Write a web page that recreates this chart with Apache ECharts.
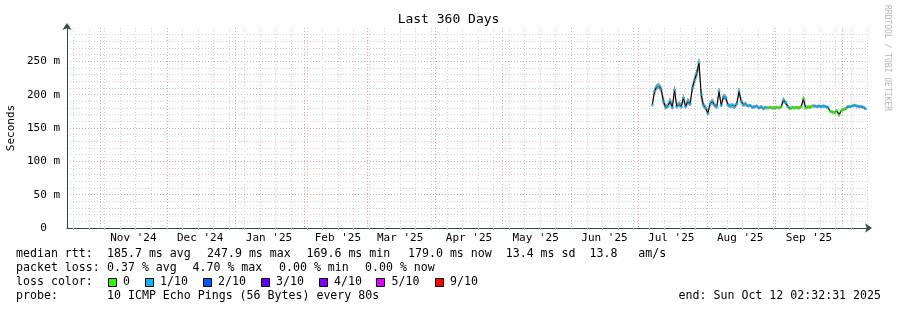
<!DOCTYPE html>
<html><head><meta charset="utf-8">
<script src="https://cdn.jsdelivr.net/npm/echarts@6/dist/echarts.min.js"></script>
<style>html,body{margin:0;padding:0;background:#fff}#c{width:897px;height:310px}</style>
</head><body><div id="c"></div>
<script>
const START = Date.UTC(2024, 9, 17, 2, 32, 31);
const END = Date.UTC(2025, 9, 12, 2, 32, 31);
const DAY = 86400000;
const FIRST_DAY = '2025-07-07';

const monthStarts = ['2024-11-01','2024-12-01','2025-01-01','2025-02-01','2025-03-01','2025-04-01','2025-05-01','2025-06-01','2025-07-01','2025-08-01','2025-09-01','2025-10-01'];
const monthLabels = ["Nov '24","Dec '24","Jan '25","Feb '25","Mar '25","Apr '25","May '25","Jun '25","Jul '25","Aug '25","Sep '25","Oct '25"];
const firstWeekLine = '2024-10-20';

// median rtt (ms), one value per day from FIRST_DAY
const medianJul = [185,205,212,213,208,190,181,183,190,181,207,182,186,182,195,182,190,186,210,222,232,247.9,200,184,180];
const medianAug = [172,186,190,184,182,205,184,197,196,185,183,184,182,186,205,190,185,186,183,184,181,182,183,180,182,179,181,180,181,180,180];
const medianSep = [181,180,182,192,188,182,179,181,180,181,180,182,194,180,182,181,183,183,182,183,182,183,182,181,175,174,173,176,169.6,176];
const medianOct = [178,179,182,182,183,184,183,182,182,181,179];

const smokeHiJul = [189,210,216,217,212,196,185,187,195,185,213,186,190,186,200,186,195,190,215,227,238,254,208,188,184];
const smokeHiAug = [176,190,194,187,185,210,187,201,200,188,186,187,185,189,210,194,188,189,185,186,183,184,185,182,184,181,183,182,183,182,182];
const smokeHiSep = [183,182,184,196,191,184,181,183,182,183,182,184,198,182,184,183,185,185,184,185,184,185,184,183,177,176,175,178,172,178];
const smokeHiOct = [180,181,184,184,185,186,185,184,184,183,181];

const smokeLoJul = [182,200,208,209,203,185,178,180,186,178,200,179,183,179,190,179,186,183,204,216,226,240,192,180,177];
const smokeLoAug = [169,183,186,181,179,199,181,193,192,182,180,181,179,183,199,186,182,183,181,182,179,180,181,178,180,177,179,178,179,178,178];
const smokeLoSep = [179,178,180,188,185,180,177,179,178,179,178,180,189,178,180,179,181,181,180,181,180,181,180,179,173,172,171,174,167,174];
const smokeLoOct = [176,177,180,180,181,182,181,180,180,179,177];

// loss bucket index per day (0 = 0 loss, 1 = 1/10)
const lossJul = [1,1,1,1,1,1,1,1,1,1,1,1,1,1,1,1,1,1,1,1,1,1,1,1,1];
const lossAug = [1,1,1,1,1,1,1,1,1,1,1,1,1,1,1,1,1,1,1,1,1,1,1,1,1,1,1,0,0,0,0];
const lossSep = [0,0,0,1,1,1,0,0,0,0,0,0,0,0,0,0,0,1,1,1,1,1,1,1,0,0,0,0,0,0];
const lossOct = [0,0,1,1,1,1,1,1,1,1,1];

const lossColors = ['#26ff00','#00b8ff','#0059ff','#5e00ff','#7e00ff','#dd00ff','#ff0000'];
const lossLegend = ['0','1/10','2/10','3/10','4/10','5/10','9/10'];

const median = [].concat(medianJul, medianAug, medianSep, medianOct);
const smokeHi = [].concat(smokeHiJul, smokeHiAug, smokeHiSep, smokeHiOct);
const smokeLo = [].concat(smokeLoJul, smokeLoAug, smokeLoSep, smokeLoOct);
const loss = [].concat(lossJul, lossAug, lossSep, lossOct);

const t0 = Date.parse(FIRST_DAY + 'T12:00:00Z');
const times = median.map((_, i) => t0 + i * DAY);

const monthTicks = monthStarts.map(d => Date.parse(d + 'T00:00:00Z')).filter(t => t > START && t < END);
const labelVals = monthStarts.map(d => Date.parse(d + 'T00:00:00Z') + 15 * DAY);
const labelMap = {};
labelVals.forEach((v, i) => { labelMap[v] = monthLabels[i]; });
const labelTicks = labelVals.filter(t => t > START && t < END);
const weekTicks = [];
for (let t = Date.parse(firstWeekLine + 'T00:00:00Z'); t < END; t += 7 * DAY) weekTicks.push(t);

const MONO = '"DejaVu Sans Mono", monospace';
const TF = '11.6px ' + MONO;

function txt(x, y, s, extra) {
  return {
    type: 'text', x: x, y: y, silent: true,
    style: Object.assign({ text: s, font: TF, fill: '#000', align: 'left', verticalAlign: 'middle', textAlign: 'left', textVerticalAlign: 'middle' }, extra || {})
  };
}
const graphics = [
  txt(448.5, 20, 'Last 360 Days', { font: '13px ' + MONO, align: 'center', textAlign: 'center' }),
  Object.assign(txt(11, 128, 'Seconds', { font: '11px ' + MONO, align: 'center', textAlign: 'center' }), { rotation: Math.PI / 2 }),
  Object.assign(txt(887, 58, 'RRDTOOL / TOBI OETIKER', { font: '8px ' + MONO, fill: '#b4b4b4', align: 'center', textAlign: 'center' }), { rotation: -Math.PI / 2 }),
  txt(16, 254, 'median rtt:'), txt(107, 254, '185.7 ms avg'), txt(207, 254, '247.9 ms max'), txt(306.5, 254, '169.6 ms min'),
  txt(408, 254, '179.0 ms now  13.4 ms sd  13.8   am/s'),
  txt(16, 268, 'packet loss:'), txt(107, 268, '0.37 % avg'), txt(192.5, 268, '4.70 % max'), txt(279, 268, '0.00 % min'), txt(365, 268, '0.00 % now'),
  txt(16, 282, 'loss color:'),
  txt(16, 296, 'probe:'), txt(107, 296, '10 ICMP Echo Pings (56 Bytes) every 80s'),
  txt(881, 296, 'end: Sun Oct 12 02:32:31 2025', { align: 'right', textAlign: 'right' })
];
const boxX = [108.5, 145.5, 203.5, 261.5, 319.5, 376.5, 435.5];
const legX = [123, 160, 218, 276, 334, 391.5, 450];
lossLegend.forEach((l, i) => {
  graphics.push({ type: 'rect', silent: true, shape: { x: boxX[i], y: 278.5, width: 8, height: 8 }, style: { fill: lossColors[i], stroke: '#000', lineWidth: 1 } });
  graphics.push(txt(legX[i], 282, l));
});

function smokeItem(params, api) {
  const i = params.dataIndexInside;
  const n = params.dataInsideLength;
  if (i >= n - 1) return null;
  const a = api.value(0, i), b = api.value(0, i + 1);
  const p1 = api.coord([a, api.value(1, i)]);
  const p2 = api.coord([a, api.value(2, i)]);
  const p3 = api.coord([b, api.value(2, i + 1)]);
  const p4 = api.coord([b, api.value(1, i + 1)]);
  return { type: 'polygon', shape: { points: [p1, p2, p3, p4] }, style: { fill: '#9a9a9a', stroke: '#9a9a9a', lineWidth: 0.5 } };
}

const chart = echarts.init(document.getElementById('c'), null, { renderer: 'canvas' });
chart.setOption({
  backgroundColor: '#fff',
  animation: false,
  grid: { left: 67, top: 28, width: 800, height: 200, containLabel: false },
  xAxis: [{
    type: 'value', min: START, max: END, position: 'bottom',
    axisLine: { show: true, lineStyle: { color: '#2C4D43', width: 1 }, symbol: ['none', 'arrow'], symbolSize: [7, 7], symbolOffset: [0, 5] },
    axisTick: { show: true, customValues: weekTicks, length: 2, lineStyle: { color: '#c0c0c0' } },
    axisLabel: { customValues: labelTicks, formatter: v => labelMap[v] || '', fontFamily: 'DejaVu Sans Mono', fontSize: 11, color: '#000', margin: 5 },
    splitLine: { show: true, lineStyle: { color: '#d0d0d0', type: [1, 2], width: 1 } }
  }, {
    type: 'value', min: START, max: END, position: 'top',
    axisLine: { show: false }, axisTick: { show: false, customValues: monthTicks }, axisLabel: { show: false, customValues: monthTicks },
    splitLine: { show: true, lineStyle: { color: '#f3a0a0', type: [1, 2], width: 1 } }
  }],
  yAxis: [{
    type: 'value', min: 0, max: 300, interval: 50,
    axisLine: { show: true, lineStyle: { color: '#2C4D43', width: 1 }, symbol: ['none', 'arrow'], symbolSize: [7, 7], symbolOffset: [0, 5] },
    axisTick: { show: false },
    axisLabel: { formatter: v => v === 0 ? '0  ' : (v >= 300 ? '' : v + ' m'), fontFamily: 'DejaVu Sans Mono', fontSize: 11, color: '#000', margin: 7 },
    splitLine: { show: true, lineStyle: { color: ['#f3a0a0','#f3a0a0','#f3a0a0','#f3a0a0','#f3a0a0','#f3a0a0','rgba(0,0,0,0)'], type: [1, 2], width: 1 } },
    minorTick: { show: false, splitNumber: 5 },
    minorSplitLine: { show: true, lineStyle: { color: '#d0d0d0', type: [1, 2], width: 1 } }
  }],
  series: [
    { type: 'custom', name: 'smoke', silent: true, z: 2, renderItem: smokeItem, clip: true,
      encode: { x: 0, y: [1, 2] }, data: times.map((t, i) => [t, smokeLo[i], smokeHi[i]]) },
    { type: 'line', name: 'median', symbol: 'none', silent: true, z: 3,
      lineStyle: { color: '#000', width: 1 }, data: times.map((t, i) => [t, median[i]]) },
    { type: 'scatter', name: 'loss', symbol: 'rect', symbolSize: [3, 2], silent: true, z: 4,
      itemStyle: { color: p => lossColors[p.data[2]] }, data: times.map((t, i) => [t, median[i], loss[i]]) }
  ],
  graphic: graphics
});
</script></body></html>
